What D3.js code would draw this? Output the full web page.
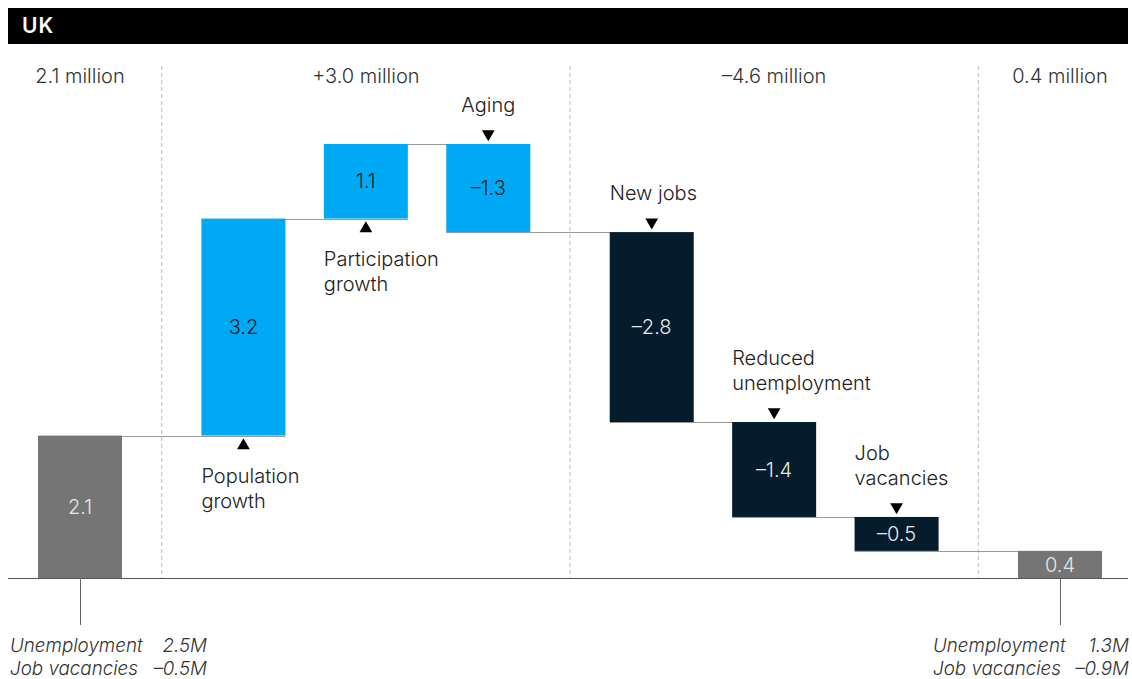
<!DOCTYPE html>
<html>
<head>
<meta charset="utf-8">
<script src="https://cdn.jsdelivr.net/npm/d3@7"></script>
<style>
  html, body { margin: 0; padding: 0; background: #fff; }
  svg { display: block; font-family: Inter, "Liberation Sans", Arial, sans-serif; }
</style>
</head>
<body>
<svg id="chart" width="1132" height="679"></svg>
<script>
// ---- data ----
const title = "UK";
const categories = ["Start", "Population growth", "Participation growth", "Aging",
                    "New jobs", "Reduced unemployment", "Job vacancies", "End"];
const values = [2.1, 3.2, 1.1, -1.3, -2.8, -1.4, -0.5, 0.4];
const valueLabels = ["2.1", "3.2", "1.1", "–1.3", "–2.8", "–1.4", "–0.5", "0.4"];
const groupOf = [0, 1, 1, 1, 2, 2, 2, 3];
const groupLabels = ["2.1 million", "+3.0 million", "–4.6 million", "0.4 million"];
const categoryLines = [[], ["Population", "growth"], ["Participation", "growth"], ["Aging"],
                       ["New jobs"], ["Reduced", "unemployment"], ["Job", "vacancies"], []];
const startNotes = [["Unemployment", "2.5M"], ["Job vacancies", "–0.5M"]];
const endNotes = [["Unemployment", "1.3M"], ["Job vacancies", "–0.9M"]];

// ---- layout ----
const W = 1132, H = 679;
const left = 8, right = 1128;
const baseY = 578, topY = 144;
const barW = 84;
const fs = 20;                     // main label size
const noteFs = 18.8;               // italic footnotes
const groupGap = 0.335;            // extra spacing between groups, in slot units
const groupFill = ["#757575", "#00a9f4", "#051c2c", "#757575"];
const groupText = ["#e6e6e6", "#1a1a1a", "#e8e8e8", "#e6e6e6"];
const centered = new Set(["Aging"]);

// waterfall extents
const bars = [];
let run = 0;
values.forEach((v, i) => {
  const isTotal = i === 0 || i === values.length - 1;
  let y0, y1;
  if (isTotal) { y0 = 0; y1 = v; run = v; }
  else { y0 = run; y1 = run + v; run = y1; }
  bars.push({ i, cat: categories[i], v, y0, y1, lo: Math.min(y0, y1), hi: Math.max(y0, y1),
              g: groupOf[i], label: valueLabels[i], lines: categoryLines[i] });
});

const slot = i => i + groupOf[i] * groupGap;
const x = d3.scaleLinear().domain([0, slot(values.length - 1)]).range([80, 1060]);
const y = d3.scaleLinear().domain([0, d3.max(bars, d => d.hi)]).range([baseY, topY]);

const svg = d3.select("#chart");

// header
svg.append("rect").attr("x", left).attr("y", 8).attr("width", right - left).attr("height", 36).attr("fill", "#000");
svg.append("text").attr("x", 22).attr("y", 33).attr("fill", "#fff")
  .attr("font-size", 21).attr("font-weight", 600).attr("letter-spacing", 1).text(title);

// group dividers (midway between neighbouring groups)
const dividers = [];
for (let i = 1; i < bars.length; i++) {
  if (bars[i].g !== bars[i - 1].g) dividers.push((x(slot(i)) + x(slot(i - 1))) / 2);
}
svg.selectAll("line.divider").data(dividers).join("line")
  .attr("class", "divider")
  .attr("x1", d => d).attr("x2", d => d)
  .attr("y1", 66).attr("y2", baseY)
  .attr("stroke", "#bdbdbd").attr("stroke-width", 1).attr("stroke-dasharray", "4,3");

// group headings, centred on each group's bars
const groupCenters = groupLabels.map((_, g) => {
  const idx = bars.filter(b => b.g === g).map(b => x(slot(b.i)));
  return d3.mean(idx);
});
svg.selectAll("text.group").data(groupLabels).join("text")
  .attr("class", "group")
  .attr("x", (d, g) => groupCenters[g]).attr("y", 83)
  .attr("text-anchor", "middle").attr("font-size", fs).attr("font-weight", 300).attr("fill", "#333")
  .text(d => d);

// connectors between consecutive bars
const connectors = bars.slice(0, -1).map((b, k) => ({ from: b, to: bars[k + 1], level: b.y1 }));
svg.selectAll("line.conn").data(connectors).join("line")
  .attr("class", "conn")
  .attr("x1", d => x(slot(d.from.i)) - barW / 2)
  .attr("x2", d => x(slot(d.to.i)) + barW / 2)
  .attr("y1", d => Math.round(y(d.level)) + 0.5).attr("y2", d => Math.round(y(d.level)) + 0.5)
  .attr("stroke", "#9a9a9a").attr("stroke-width", 1);

// baseline
svg.append("line").attr("x1", left).attr("x2", right)
  .attr("y1", baseY + 0.5).attr("y2", baseY + 0.5)
  .attr("stroke", "#555").attr("stroke-width", 1);

// bars
svg.selectAll("rect.bar").data(bars).join("rect")
  .attr("class", "bar")
  .attr("x", d => x(slot(d.i)) - barW / 2)
  .attr("y", d => y(d.hi))
  .attr("width", barW)
  .attr("height", d => y(d.lo) - y(d.hi))
  .attr("fill", d => groupFill[d.g]);

// value labels inside bars
svg.selectAll("text.val").data(bars).join("text")
  .attr("class", "val")
  .attr("x", d => x(slot(d.i)))
  .attr("y", d => (y(d.lo) + y(d.hi)) / 2)
  .attr("dy", "0.36em")
  .attr("text-anchor", "middle").attr("font-size", fs).attr("font-weight", 300)
  .attr("fill", d => groupText[d.g])
  .text(d => d.label);

// category markers and names
const movers = bars.filter(b => b.lines.length);
const tri = d3.symbol().type(d3.symbolTriangle).size(70);
movers.forEach(b => {
  const cx = x(slot(b.i));
  const g = svg.append("g");
  const tx = centered.has(b.cat) ? cx : cx - barW / 2;
  const anchor = centered.has(b.cat) ? "middle" : "start";
  if (b.v > 0) {
    const yb = y(b.lo);
    g.append("path").attr("d", tri).attr("transform", `translate(${cx},${yb + 10})`).attr("fill", "#000");
    b.lines.forEach((ln, k) => {
      g.append("text").attr("y", yb + 47 + k * 25).attr("x", tx).attr("text-anchor", anchor)
        .attr("font-size", fs).attr("font-weight", 300).attr("fill", "#222").text(ln);
    });
  } else {
    const yt = y(b.hi);
    g.append("path").attr("d", tri).attr("transform", `translate(${cx},${yt - 10}) rotate(180)`).attr("fill", "#000");
    const n = b.lines.length;
    b.lines.forEach((ln, k) => {
      g.append("text").attr("y", yt - 32 - (n - 1 - k) * 25).attr("x", tx).attr("text-anchor", anchor)
        .attr("font-size", fs).attr("font-weight", 300).attr("fill", "#222").text(ln);
    });
  }
});

// totals: ticks below the axis with breakdown notes
const first = bars[0], last = bars[bars.length - 1];
[first, last].forEach(b => {
  const cx = Math.round(x(slot(b.i))) + 0.5;
  svg.append("line").attr("x1", cx).attr("x2", cx).attr("y1", baseY).attr("y2", 625)
    .attr("stroke", "#666").attr("stroke-width", 1);
});

function notes(rows, xLabel, xValue) {
  rows.forEach((r, k) => {
    const yy = 652 + k * 23;
    svg.append("text").attr("x", xLabel).attr("y", yy).attr("font-size", noteFs).attr("font-weight", 300)
      .attr("font-style", "italic").attr("fill", "#333").text(r[0]);
    svg.append("text").attr("x", xValue).attr("y", yy).attr("font-size", noteFs).attr("font-weight", 300)
      .attr("font-style", "italic").attr("fill", "#333").attr("text-anchor", "end").text(r[1]);
  });
}
notes(startNotes, 10, 207);
notes(endNotes, 933, 1129);
</script>
</body>
</html>
